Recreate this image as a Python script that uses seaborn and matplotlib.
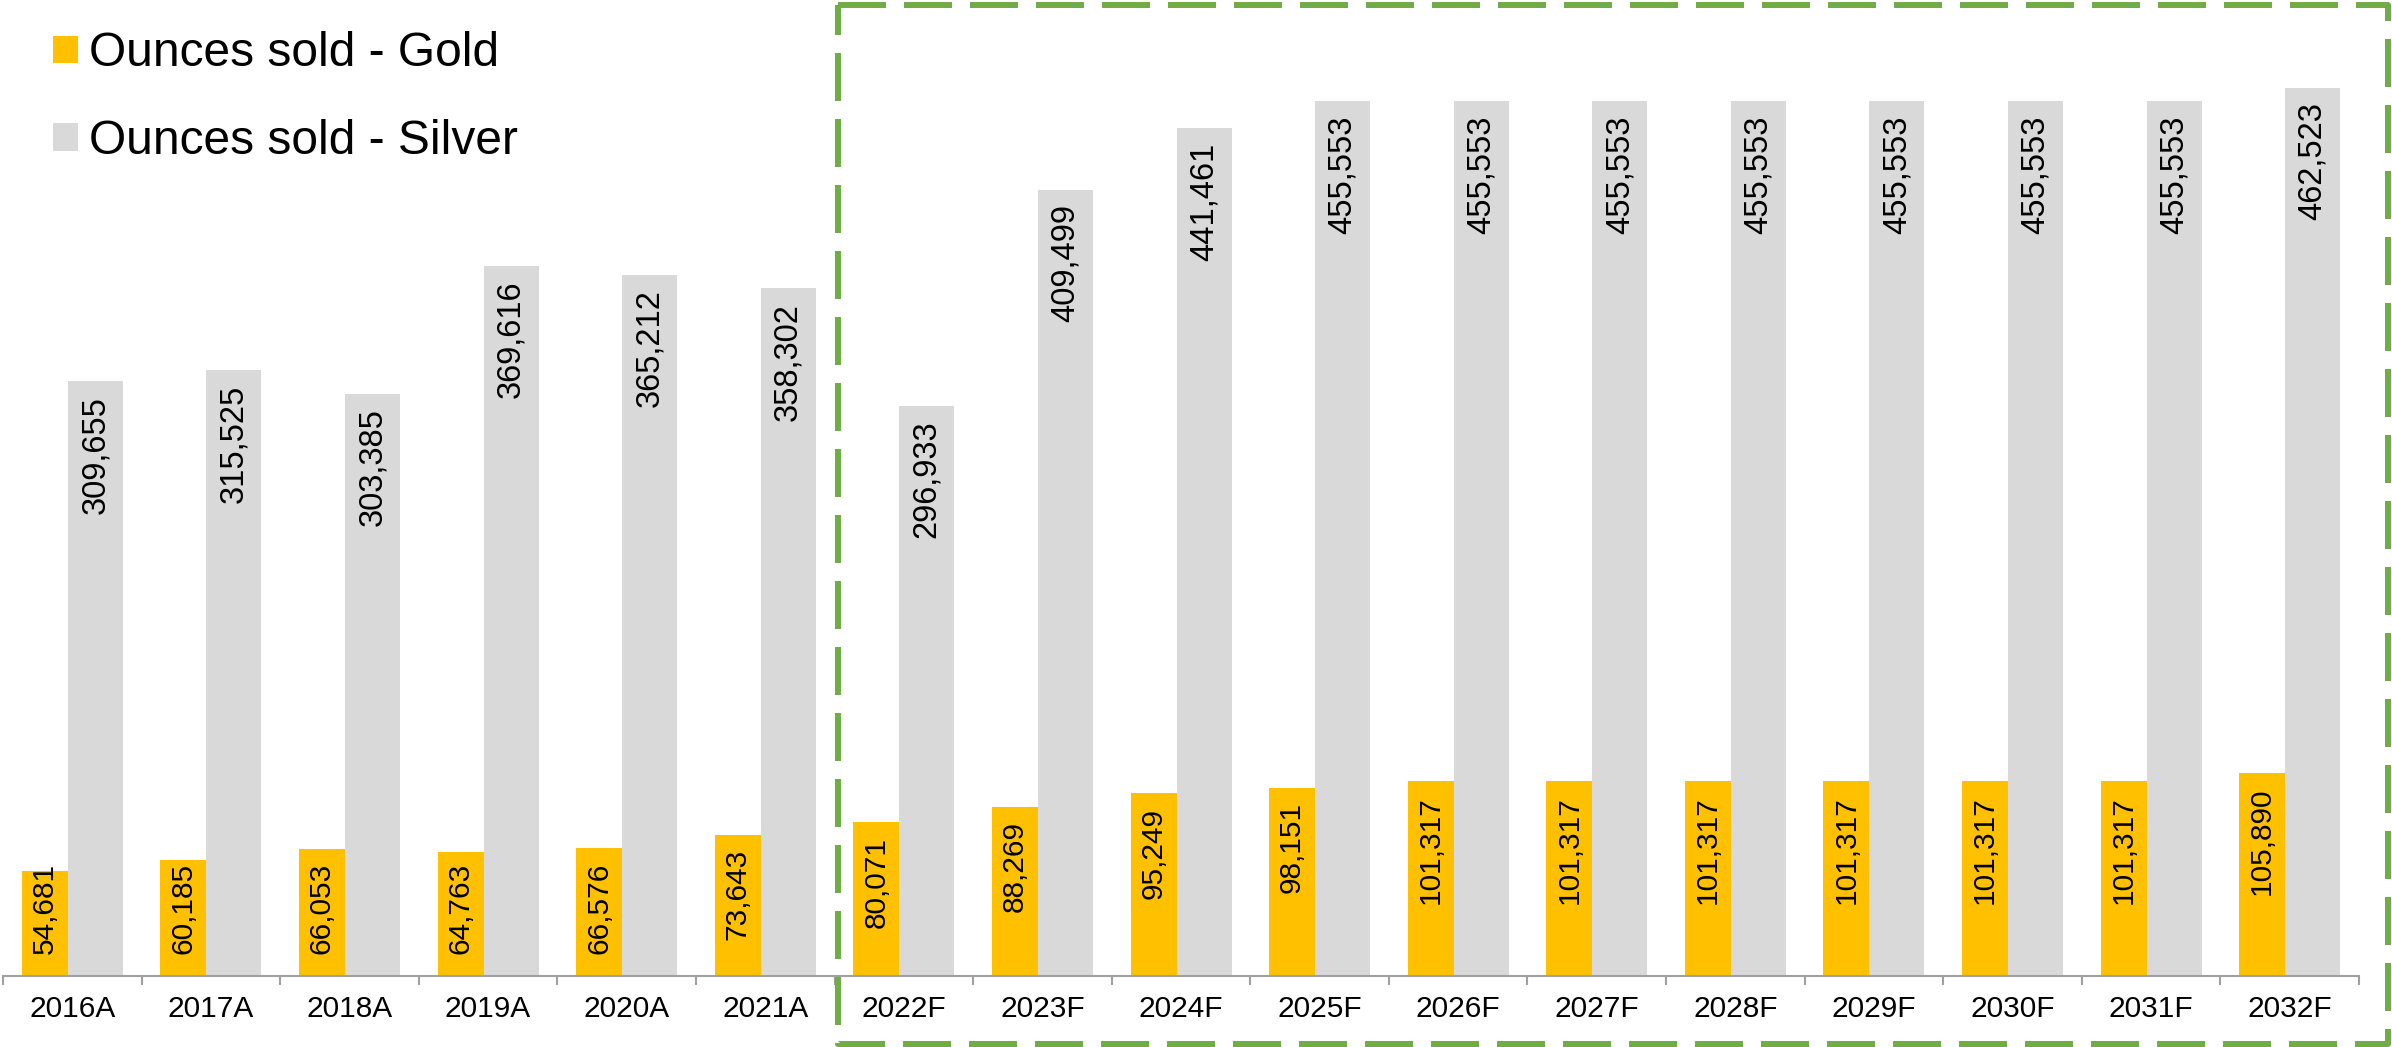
import numpy as np
import pandas as pd
import matplotlib
matplotlib.use("Agg")
import matplotlib.pyplot as plt
import seaborn as sns
from matplotlib.patches import Patch
from matplotlib.lines import Line2D
from matplotlib.ticker import FixedLocator, NullFormatter, FixedFormatter

# ---- data ----
years = ["2016A", "2017A", "2018A", "2019A", "2020A", "2021A", "2022F", "2023F",
         "2024F", "2025F", "2026F", "2027F", "2028F", "2029F", "2030F", "2031F", "2032F"]
gold = [54681, 60185, 66053, 64763, 66576, 73643, 80071, 88269, 95249, 98151,
        101317, 101317, 101317, 101317, 101317, 101317, 105890]
silver = [309655, 315525, 303385, 369616, 365212, 358302, 296933, 409499, 441461, 455553,
          455553, 455553, 455553, 455553, 455553, 455553, 462523]
series_names = ["Ounces sold - Gold", "Ounces sold - Silver"]

# ---- style ----
GOLD_C = "#FFC000"
SILVER_C = "#D9D9D9"
BOX_C = "#70AD47"
AXIS_C = "#A0A0A0"
W, H, DPI = 2392, 1047, 100
UNIT = 2356 / 17.0
GOLD_W, SILVER_W = 46 / UNIT, 55 / UNIT
GOLD_SHIFT, SILVER_SHIFT = -27.5 / UNIT, 23 / UNIT
YMAX = 508360
LABEL_SIZES = [21.5, 23.5]

sns.set_theme(style="white")
plt.rcParams["font.family"] = ["Liberation Sans", "DejaVu Sans"]
plt.rcParams["text.color"] = "black"

fig = plt.figure(figsize=(W / DPI, H / DPI), dpi=DPI)
ax = fig.add_axes([3 / W, 71 / H, 2356 / W, 976 / H])

idx = np.arange(len(years))
df_g = pd.DataFrame({"x": idx + GOLD_SHIFT, "v": gold})
df_s = pd.DataFrame({"x": idx + SILVER_SHIFT, "v": silver})
sns.barplot(data=df_g, x="x", y="v", native_scale=True, width=GOLD_W, color=GOLD_C,
            saturation=1, errorbar=None, linewidth=0, ax=ax)
sns.barplot(data=df_s, x="x", y="v", native_scale=True, width=SILVER_W, color=SILVER_C,
            saturation=1, errorbar=None, linewidth=0, ax=ax)

ax.set_xlim(-0.5, len(years) - 0.5)
ax.set_ylim(0, YMAX)
for s in ["left", "right", "top"]:
    ax.spines[s].set_visible(False)
ax.spines["bottom"].set_color(AXIS_C)
ax.spines["bottom"].set_linewidth(1.5)
ax.set_xlabel("")
ax.set_ylabel("")
ax.set_yticks([])
ax.xaxis.set_major_locator(FixedLocator(np.arange(-0.5, len(years), 1.0)))
ax.xaxis.set_major_formatter(NullFormatter())
ax.xaxis.set_minor_locator(FixedLocator(idx))
ax.xaxis.set_minor_formatter(FixedFormatter(years))
ax.tick_params(axis="x", which="major", length=6.5, width=1.5, color=AXIS_C, direction="out", bottom=True)
ax.tick_params(axis="x", which="minor", length=0, pad=13.5, labelsize=21.5, labelcolor="black", bottom=True)
ax.grid(False)

# data labels
labels = []
for cont, vals, fs in zip(ax.containers, [gold, silver], LABEL_SIZES):
    for bar, v in zip(cont, vals):
        xc = bar.get_x() + bar.get_width() / 2
        t = ax.annotate(f"{v:,}", (xc, v), xytext=(0, -10.5), textcoords="offset points",
                        rotation=90, ha="center", va="top", fontsize=fs, color="black")
        labels.append(t)

fig.canvas.draw()
renderer = fig.canvas.get_renderer()
axis_px = ax.transData.transform((0, 0))[1]
for t in labels:
    bb = t.get_window_extent(renderer)
    if bb.y0 < axis_px + 22:
        dy = (axis_px + 22 - bb.y0) * 72 / DPI
        t.xyann = (0, -10.5 + dy)

# legend
handles = [Patch(facecolor=GOLD_C, edgecolor="none"), Patch(facecolor=SILVER_C, edgecolor="none")]
ax.legend(handles, series_names, loc="upper left", bbox_to_anchor=(53 / W, 1 - 31.5 / H),
          bbox_transform=fig.transFigure, frameon=False, fontsize=34.5, labelcolor="black",
          handlelength=0.52, handleheight=0.52, handletextpad=0.23,
          labelspacing=0.88, borderpad=0, borderaxespad=0)

# dashed forecast box
x0, x1 = 838 / W, 2388 / W
y0, y1 = 1 - 1044 / H, 1 - 5 / H
box = Line2D([x0, x1, x1, x0, x0], [y1, y1, y0, y0, y1], transform=fig.transFigure,
             color=BOX_C, lw=4.32, linestyle=(0, (8, 3)), solid_joinstyle="miter",
             dash_capstyle="butt")
fig.add_artist(box)

fig.savefig("out.png", dpi=DPI)
